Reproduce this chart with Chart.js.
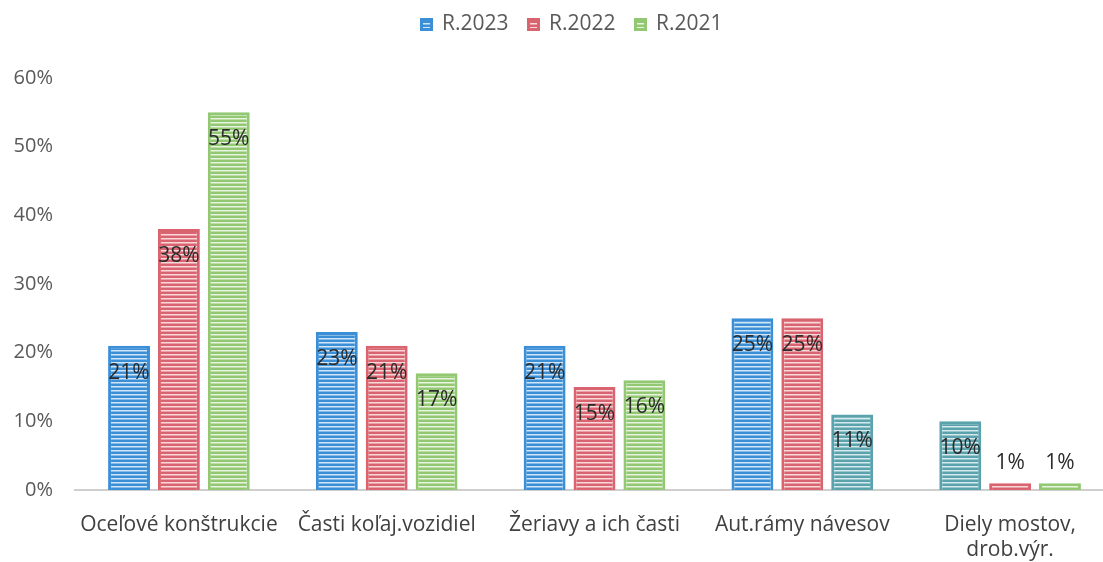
<!DOCTYPE html>
<html>
<head>
<meta charset="utf-8">
<script src="https://cdn.jsdelivr.net/npm/chart.js@4.4.1/dist/chart.umd.min.js"></script>
<style>
html,body{margin:0;padding:0;background:#fff;overflow:hidden;}
#wrap{width:1103px;height:562px;overflow:hidden;position:relative;}
canvas{position:absolute;left:0;top:0;}
</style>
</head>
<body>
<div id="wrap"><canvas id="c" width="1116" height="562"></canvas></div>
<script>
const categories = ['Oceľové konštrukcie', 'Časti koľaj.vozidiel', 'Žeriavy a ich časti', 'Aut.rámy návesov', ['Diely mostov,', 'drob.výr.']];
const seriesNames = ['R.2023', 'R.2022', 'R.2021'];
const values2023 = [21, 23, 21, 25, 10];
const values2022 = [38, 21, 15, 25, 1];
const values2021 = [55, 17, 16, 11, 1];
const yTicks = [0, 10, 20, 30, 40, 50, 60];

const BLUE = '#3b8fd6', RED = '#d9646f', GREEN = '#92c872', TEAL = '#5aa3ad';
const LIGHT = {'#3b8fd6':'#d2e6f7','#d9646f':'#f7d9dc','#92c872':'#e8f4df','#5aa3ad':'#d6eaed'};
const FONT = 'Open Sans';

function stripe(color){
  const c = document.createElement('canvas');
  c.width = 8; c.height = 4;
  const g = c.getContext('2d');
  g.fillStyle = color; g.fillRect(0,0,8,4);
  g.fillStyle = LIGHT[color]; g.fillRect(0,2,8,1.5);
  return g.createPattern(c,'repeat');
}
const seriesColors = [
  [BLUE, BLUE, BLUE, BLUE, TEAL],
  [RED, RED, RED, RED, RED],
  [GREEN, GREEN, GREEN, TEAL, GREEN]
];
const seriesValues = [values2023, values2022, values2021];

const labelPlugin = {
  id: 'barLabels',
  afterDatasetsDraw(chart){
    const ctx = chart.ctx;
    ctx.save();
    ctx.font = '21px "' + FONT + '"';
    ctx.fillStyle = '#2b2b2b';
    ctx.textAlign = 'center';
    ctx.textBaseline = 'middle';
    chart.data.datasets.forEach((ds, di) => {
      chart.getDatasetMeta(di).data.forEach((el, i) => {
        const v = ds.data[i];
        const y = v >= 5 ? el.y + 27 : el.y - 20;
        ctx.fillText(v + '%', el.x, y);
      });
    });
    ctx.restore();
  }
};
const legendFix = {
  id: 'legendFix',
  beforeLayout(chart){
    const lg = chart.legend;
    if (lg && !lg._fixed){
      const f = lg.fit.bind(lg);
      lg.fit = function(){ f(); this.height = 73; };
      const d = lg.draw.bind(lg);
      lg.draw = function(){ const c = this.ctx; c.save(); c.translate(15, -11); d(); c.restore(); };
      lg._fixed = true;
    }
  }
};

new Chart(document.getElementById('c'), {
  type: 'bar',
  data: {
    labels: categories,
    datasets: seriesNames.map((n, di) => ({
      label: n,
      data: seriesValues[di],
      backgroundColor: seriesColors[di].map(stripe),
      borderColor: seriesColors[di],
      borderWidth: 3,
      borderSkipped: 'start',
      categoryPercentage: 0.72,
      barPercentage: 0.84
    }))
  },
  options: {
    responsive: false,
    animation: false,
    layout: { padding: { top: 5, right: 2, left: 0, bottom: 0 } },
    plugins: {
      legend: {
        position: 'top',
        labels: { font: { family: FONT, size: 21 }, color: '#595959', boxWidth: 10, boxHeight: 10, padding: 20 }
      },
      tooltip: { enabled: false }
    },
    scales: {
      x: {
        grid: { display: false },
        border: { display: true, color: '#cfcfcf', width: 2 },
        ticks: { font: { family: FONT, size: 21, lineHeight: 1.2 }, color: '#404040', padding: 14, maxRotation: 0, autoSkip: false },
        afterFit(s){ s.height = 72; }
      },
      y: {
        min: 0, max: 60,
        grid: { display: false },
        border: { display: false },
        afterBuildTicks(s){ s.ticks = yTicks.map(v => ({ value: v })); },
        ticks: { font: { family: FONT, size: 20 }, color: '#595959', padding: 14, callback: v => v + '%' },
        afterFit(s){ s.width = 75; }
      }
    }
  },
  plugins: [labelPlugin, legendFix]
});
</script>
</body>
</html>
